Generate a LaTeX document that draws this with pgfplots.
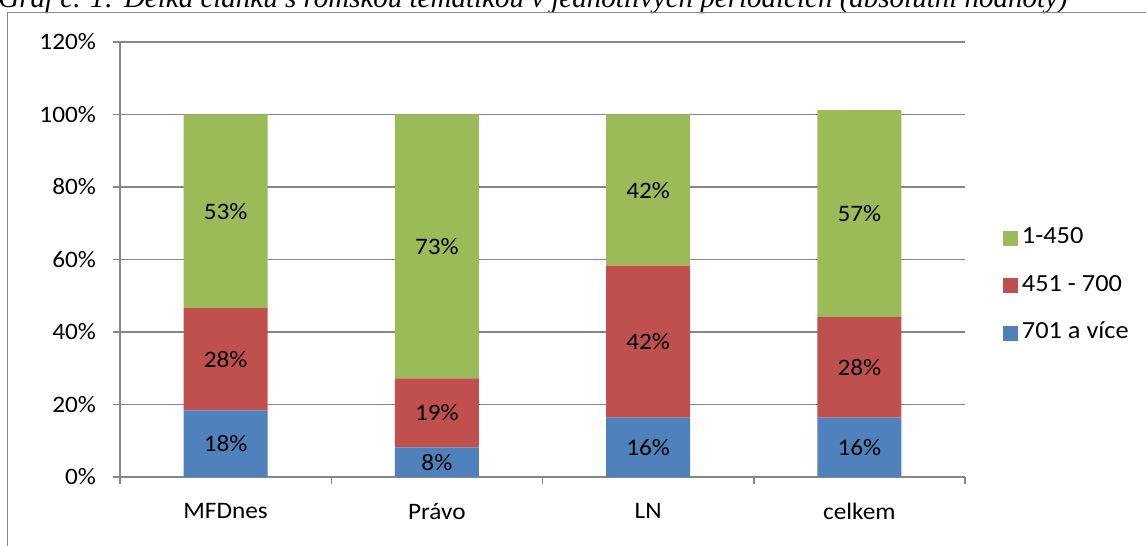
\documentclass[border=0pt]{standalone}
\usepackage{fontspec}
\setmainfont{Carlito}[FakeStretch=1.07]
\newfontfamily\titlefont{Liberation Serif}
\usepackage{pgfplots}
\usepackage{pgfplotstable}
\pgfplotsset{compat=1.18}
\definecolor{cgreen}{HTML}{9BBB59}
\definecolor{cred}{HTML}{C0504D}
\definecolor{cblue}{HTML}{4F81BD}
\definecolor{cgrid}{HTML}{868686}
\pgfplotstableread{
x b r g
0 18.4 28.2 53.4
1 8.2 19.0 72.8
2 16.4 41.9 41.7
3 16.4 27.8 57.0
}\data
\newcommand{\lfont}{\fontsize{11.8}{13}\selectfont}
\newcommand{\legfont}{\fontsize{12.3}{13.5}\selectfont}
\pgfplotsset{myleg/.style={legend image code/.code={\fill[##1] (0pt,-3.75pt) rectangle (7.5pt,3.75pt); \path (8.2pt,0pt);}}}
\begin{document}
\begin{tikzpicture}[x=1pt,y=1pt]
\useasboundingbox (0,0) rectangle (573,273);
\clip (0,0) rectangle (573,273);
\node[anchor=base west, inner sep=0pt, font=\titlefont\itshape\fontsize{14.5}{16}\selectfont] at (-1,269.35) {Graf č. 1: Délka článku s romskou tematikou v jednotlivých periodicích (absolutní hodnoty)};
\draw[cgrid, line width=0.9pt] (3.75,-5) -- (3.75,266.75) -- (580,266.75);
\begin{axis}[
  at={(60pt,34.5pt)}, anchor=south west,
  width=422.5pt, height=217.5pt, scale only axis,
  xmin=-0.5, xmax=3.5, ymin=0, ymax=120,
  ybar stacked, bar width=42pt,
  axis lines*=left,
  axis line style={cgrid, line width=0.75pt},
  ymajorgrids, grid style={cgrid, line width=0.75pt},
  ytick={0,20,...,120}, yticklabel={\pgfmathprintnumber{\tick}\%},
  xtick={-0.5,0.5,1.5,2.5,3.5}, xticklabels={},
  extra x ticks={0,1,2,3}, extra x tick labels={MFDnes,Právo,LN,celkem},
  extra x tick style={major tick length=0pt, tick style={draw=none}},
  tick align=outside, major tick length=3.5pt,
  tick style={cgrid, line width=0.75pt},
  /pgf/number format/assume math mode=true,
  tick label style={font=\lfont},
  xticklabel style={yshift=-9.5pt},
  yticklabel style={xshift=-5pt},
  reverse legend,
  legend style={at={(1.044,0.440)}, anchor=west, draw=none, font=\legfont, legend cell align=left,
    inner sep=0pt, row sep=10.25pt, nodes={inner sep=1.5pt, text height=8pt, text depth=2.5pt}},
  nodes near coords={\pgfmathprintnumber[fixed,precision=0]{\pgfplotspointmeta}\%},
  every node near coord/.append style={anchor=center, font=\lfont, text=black},
]
\addplot[fill=cblue, draw=none, myleg, point meta=\thisrow{b}] table[x=x,y=b]{\data};
\addplot[fill=cred, draw=none, myleg, point meta=\thisrow{r}] table[x=x,y=r]{\data};
\addplot[fill=cgreen, draw=none, myleg, point meta=\thisrow{g}] table[x=x,y=g]{\data};
\legend{701 a více, 451 - 700, 1-450}
\end{axis}
\end{tikzpicture}
\end{document}
